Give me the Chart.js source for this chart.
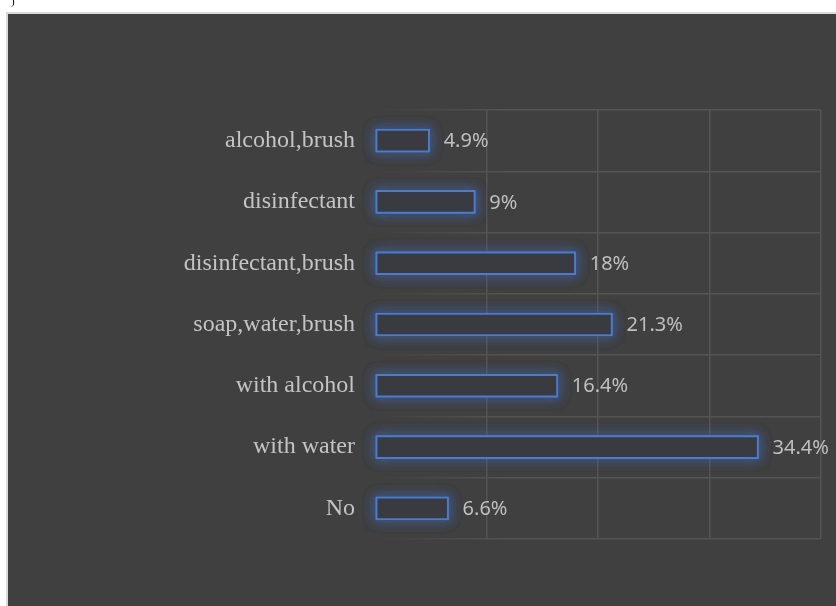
<!DOCTYPE html>
<html>
<head>
<meta charset="utf-8">
<script src="https://cdn.jsdelivr.net/npm/chart.js@4/dist/chart.umd.min.js"></script>
<style>
  html, body { margin: 0; padding: 0; background: #ffffff; }
  #wrap { position: relative; width: 836px; height: 606px; }
  canvas { display: block; }
</style>
</head>
<body>
<div id="wrap"><canvas id="c" width="836" height="606"></canvas></div>
<script>
const categories = ["alcohol,brush", "disinfectant", "disinfectant,brush", "soap,water,brush", "with alcohol", "with water", "No"];
const percentValues = [4.9, 9, 18, 21.3, 16.4, 34.4, 6.6];
const xTickValues = [0, 10, 20, 30, 40];

const panelPlugin = {
  id: 'panel',
  beforeDraw(chart) {
    const ctx = chart.ctx;
    ctx.save();
    ctx.fillStyle = '#ffffff';
    ctx.fillRect(0, 0, chart.width, chart.height);
    ctx.fillStyle = '#d9d9d9';
    ctx.fillRect(6, 12, chart.width - 6, chart.height - 12);
    ctx.fillStyle = '#404040';
    ctx.fillRect(8, 14, chart.width - 8, chart.height - 14);
    ctx.fillStyle = '#000000';
    ctx.font = '11px "Liberation Serif"';
    ctx.textBaseline = 'top';
    ctx.fillText(')', 11, -3);
    ctx.restore();
  }
};

const glowPlugin = {
  id: 'glow',
  beforeDatasetsDraw(chart) {
    const meta = chart.getDatasetMeta(0);
    const ctx = chart.ctx;
    ctx.save();
    meta.data.forEach((bar) => {
      const left = Math.min(bar.base, bar.x);
      const w = Math.abs(bar.x - bar.base);
      const top = bar.y - bar.height / 2;
      for (let k = 0; k < 3; k++) {
        ctx.shadowColor = 'rgba(68,114,196,1)';
        ctx.shadowBlur = 12;
        ctx.strokeStyle = 'rgba(68,114,196,0.8)';
        ctx.lineWidth = 2;
        ctx.strokeRect(left + 1, top + 1, w - 2, bar.height - 2);
      }
    });
    ctx.restore();
  },
  afterDatasetsDraw(chart) {
    const ctx = chart.ctx;
    const meta = chart.getDatasetMeta(0);
    ctx.save();
    ctx.fillStyle = '#bfbfbf';
    ctx.font = '20px "Noto Sans"';
    ctx.textAlign = 'left';
    ctx.textBaseline = 'middle';
    meta.data.forEach((bar, i) => {
      ctx.fillText(String(percentValues[i]) + '%', bar.x + 14, bar.y + 1);
    });
    ctx.restore();
  }
};

new Chart(document.getElementById('c'), {
  type: 'bar',
  data: {
    labels: categories,
    datasets: [{
      data: percentValues,
      backgroundColor: '#393b40',
      borderColor: '#4a7bd0',
      borderWidth: 2,
      borderSkipped: false,
      barThickness: 23
    }]
  },
  options: {
    indexAxis: 'y',
    responsive: false,
    animation: false,
    events: [],
    layout: { padding: { left: 0, right: 15, top: 110, bottom: 67 } },
    plugins: {
      legend: { display: false },
      tooltip: { enabled: false }
    },
    scales: {
      x: {
        min: 0,
        max: 40,
        afterBuildTicks(scale) { scale.ticks = xTickValues.map(v => ({ value: v })); },
        afterFit(scale) { scale.height = 0; },
        ticks: { display: false },
        border: { display: false },
        grid: {
          drawTicks: false,
          lineWidth: 1.5,
          color: (c) => (c.index === 0 ? 'rgba(0,0,0,0)' : '#545454')
        }
      },
      y: {
        afterFit(scale) { scale.width = 375; },
        border: { display: false },
        ticks: {
          color: '#c4c4c4',
          padding: 20,
          font: { family: '"Liberation Serif", "Times New Roman", serif', size: 24 }
        },
        grid: {
          drawTicks: false,
          lineWidth: 1.5,
          color: (c) => {
            const ch = c.chart;
            const a = ch.chartArea;
            if (!a) return '#545454';
            const g = ch.ctx.createLinearGradient(a.left, 0, a.right, 0);
            g.addColorStop(0, 'rgba(84,84,84,0)');
            g.addColorStop(0.3, 'rgba(84,84,84,1)');
            g.addColorStop(1, 'rgba(84,84,84,1)');
            return g;
          }
        }
      }
    }
  },
  plugins: [panelPlugin, glowPlugin]
});
</script>
</body>
</html>
